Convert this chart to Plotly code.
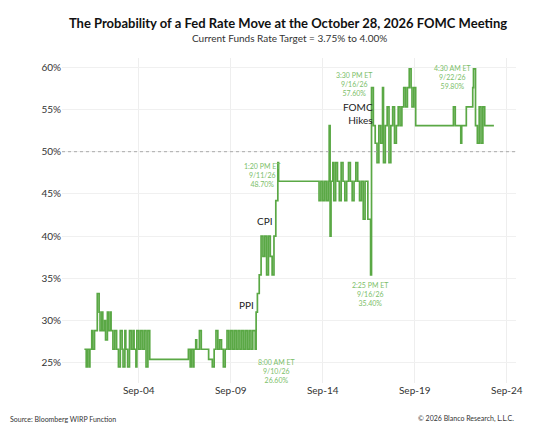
import plotly.graph_objects as go
import pandas as pd

# time in fractional days of September 2026, probability (%)
days = [1.05,1.15,1.2,1.3,1.35,1.45,1.5,1.6,1.75,1.85,1.9,2.0,2.05,2.15,2.2,2.3,2.35,2.45,2.5,2.6,2.7,2.8,2.9,3.0,3.1,3.15,3.25,3.3,3.4,3.5,3.6,3.7,3.75,3.85,3.9,4.0,4.1,4.2,4.3,4.4,4.5,4.6,
        6.7,6.8,6.85,6.95,7.0,7.1,7.15,7.3,7.4,7.5,7.6,7.8,8.0,8.1,8.2,8.3,8.4,8.5,8.6,8.7,8.8,8.9,8.95,9.0,9.1,9.2,9.3,9.4,9.5,9.6,9.7,9.8,9.9,10.0,10.1,10.2,10.33,
        10.38,10.45,10.55,10.65,10.75,10.85,10.95,11.05,11.15,11.25,11.35,11.45,11.56,11.6,
        13.8,13.9,14.0,14.1,14.2,14.3,14.35,14.4,14.45,14.55,14.6,14.7,14.8,14.9,15.0,15.1,15.2,15.3,15.4,15.5,15.6,15.7,15.8,15.9,16.0,16.1,16.2,16.3,16.45,16.6,16.65,
        16.75,16.85,16.95,17.05,17.15,17.25,17.3,17.4,17.5,17.6,17.7,17.8,17.9,18.0,18.1,18.2,18.3,18.4,18.5,18.6,18.7,18.8,18.85,18.95,19.05,
        21.1,21.2,21.5,21.55,21.8,21.85,22.15,22.19,22.3,22.4,22.5,22.6,22.7,22.8,22.9,23.3]
probs = [26.6,24.5,26.6,24.5,26.6,28.8,26.6,28.8,33.2,31.0,28.8,31.0,28.8,30.0,27.7,31.0,28.8,31.0,28.8,26.6,28.8,26.6,24.5,28.8,26.6,24.5,28.8,26.6,24.5,28.8,26.6,28.8,26.6,24.5,28.8,26.6,28.8,26.6,28.8,24.5,28.8,25.4,
         26.6,24.5,26.6,24.5,26.6,27.7,26.6,28.8,26.6,26.6,26.6,25.4,24.5,26.6,28.8,26.6,27.7,26.6,24.5,26.6,28.8,26.6,26.6,28.8,26.6,28.8,26.6,28.8,26.6,28.8,26.6,28.8,26.6,28.8,26.6,28.8,26.6,
         31.0,33.2,35.4,40.0,37.6,40.0,35.4,40.0,37.6,35.4,40.0,44.2,48.7,46.5,
         44.2,46.5,44.2,46.5,44.2,46.5,53.1,40.0,46.5,48.7,44.2,48.7,46.5,44.2,48.7,46.5,44.2,46.5,48.7,46.5,44.2,46.5,48.7,46.5,44.2,46.5,42.0,46.5,42.0,35.4,57.6,
         53.1,51.0,48.7,53.1,51.0,57.6,48.7,53.1,55.3,48.7,53.1,55.3,51.0,53.1,55.3,53.1,55.3,57.6,55.3,57.6,59.8,57.6,55.3,57.6,53.1,
         55.3,53.1,51.0,53.1,55.3,55.3,57.6,59.8,53.1,51.0,55.3,51.0,55.3,53.1,53.1,53.1]

y_ticks = [25, 30, 35, 40, 45, 50, 55, 60]
y_labels = ["25%", "30%", "35%", "40%", "45%", "50%", "55%", "60%"]
x_tick_days = [4, 9, 14, 19, 24]
x_labels = ["Sep-04", "Sep-09", "Sep-14", "Sep-19", "Sep-24"]

base = pd.Timestamp("2026-09-01")
def to_t(d):
    return base + pd.Timedelta(days=d - 1)
times = [to_t(d) for d in days]

ann_text = ["8:00 AM ET<br>9/10/26<br>26.60%", "1:20 PM ET<br>9/11/26<br>48.70%",
            "3:30 PM ET<br>9/16/26<br>57.60%", "2:25 PM ET<br>9/16/26<br>35.40%",
            "4:30 AM ET<br>9/22/26<br>59.80%"]
ann_day = [11.5, 10.75, 15.75, 16.6, 21.1]
ann_y = [24.0, 47.2, 58.0, 33.2, 58.8]
event_text = ["PPI", "CPI", "FOMC<br>Hikes"]
event_day = [9.85, 10.85, 15.9]
event_y = [31.8, 41.8, 54.5]

green = "#5aa845"
fig = go.Figure(go.Scatter(x=times, y=probs, mode="lines", line=dict(color=green, width=1.7, shape="hv")))
anns = []
for t, d, y in zip(ann_text, ann_day, ann_y):
    anns.append(dict(x=to_t(d), y=y, text=t, showarrow=False,
                     font=dict(size=7, color="#7cc06a"), align="center"))
for t, d, y in zip(event_text, event_day, event_y):
    anns.append(dict(x=to_t(d), y=y, text=t, showarrow=False,
                     font=dict(size=10, color="#222"), align="right"))
anns.append(dict(x=0, y=-0.13, xref="paper", yref="paper", xanchor="left", xshift=-54, text="Source: Bloomberg WIRP Function",
                 showarrow=False, font=dict(size=7, color="#333")))
anns.append(dict(x=1, y=-0.13, xref="paper", yref="paper", xanchor="right", text="© 2026 Blanco Research, L.L.C.",
                 showarrow=False, font=dict(size=7, color="#333")))
anns.append(dict(x=0.5, y=1.085, xref="paper", yref="paper", text="Current Funds Rate Target = 3.75% to 4.00%",
                 showarrow=False, font=dict(size=10, color="#333")))
fig.update_layout(
    width=560, height=437, margin=dict(l=54, r=52, t=50, b=62),
    plot_bgcolor="white", paper_bgcolor="white", showlegend=False,
    font=dict(family="Lato", color="#333"),
    title=dict(text="<b>The Probability of a Fed Rate Move at the October 28, 2026 FOMC Meeting</b>",
               x=0.5, xanchor="center", y=0.975, font=dict(size=13, color="#111")),
    xaxis=dict(range=[pd.Timestamp("2026-08-30 20:00"), pd.Timestamp("2026-09-24 12:00")],
               tickvals=[to_t(d) for d in x_tick_days], ticktext=x_labels,
               showgrid=True, gridcolor="#eeeeee", tickfont=dict(size=10), zeroline=False),
    yaxis=dict(range=[22.6, 61.1], tickvals=y_ticks, ticktext=y_labels,
               showgrid=True, gridcolor="#f0f0f0", tickfont=dict(size=10), zeroline=False),
    annotations=anns,
    shapes=[dict(type="line", xref="paper", x0=0, x1=1, y0=50, y1=50, line=dict(color="#aaa", width=1, dash="dot"))],
)
fig.write_html("out.html")
